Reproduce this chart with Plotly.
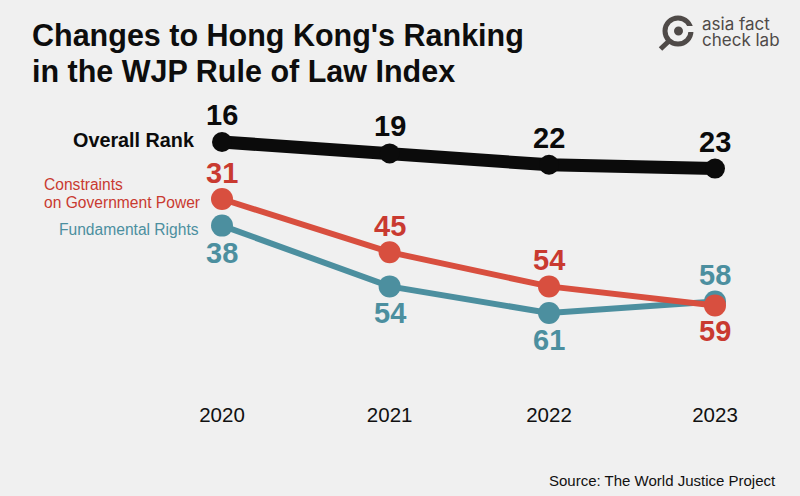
import plotly.graph_objects as go

years = [2020, 2021, 2022, 2023]
# horizontal placement of each year
x_pos = [2020, 2021.02, 2021.99, 2023]
overall = [16, 19, 22, 23]
constraints = [31, 45, 54, 59]
fundamental = [38, 54, 61, 58]

BG = "#f0f0f0"
BLACK = "#0b0b0b"
RED = "#d84f3f"
RED_TXT = "#c93a30"
TEAL = "#4c8f9f"
FONT = "Liberation Sans"
W, H, B = 800, 496, 96
PH = H - B

def px(v):
    return v / W

def py(v):
    return 1 - v / PH

fig = go.Figure()
for vals, col, lw, ms in [(overall, BLACK, 13, 20), (fundamental, TEAL, 6, 22), (constraints, RED, 6, 22)]:
    fig.add_trace(go.Scatter(x=x_pos, y=vals, mode="lines+markers",
                             line=dict(color=col, width=lw),
                             marker=dict(color=col, size=ms),
                             hoverinfo="skip", showlegend=False))

ann = []
def val_label(x, v, col, shift, size=29):
    ann.append(dict(x=x, y=v, xref="x", yref="y", text=f"<b>{v}</b>", showarrow=False,
                    yshift=shift, font=dict(family=FONT, size=size, color=col)))

for x, v in zip(x_pos, overall):
    val_label(x, v, BLACK, 27)
for x, v in zip(x_pos, constraints):
    val_label(x, v, RED_TXT, -26 if v == 59 else 26)
for x, v in zip(x_pos, fundamental):
    val_label(x, v, TEAL, 27 if v == 58 else -27)

def text(x, y, s, size, col, anchor="left", bold=False, family=FONT):
    ann.append(dict(x=px(x), y=py(y), xref="paper", yref="paper", text=f"<b>{s}</b>" if bold else s,
                    showarrow=False, xanchor=anchor, yanchor="middle", align=anchor,
                    font=dict(family=family, size=size, color=col)))

text(30, 35, "Changes to Hong Kong's Ranking", 30.5, "#0d0d0d", bold=True)
text(30, 71, "in the WJP Rule of Law Index", 30.5, "#0d0d0d", bold=True)
text(197, 140, "Overall Rank", 19.8, BLACK, anchor="right", bold=True)
text(42, 184, "Constraints", 15.6, RED_TXT)
text(42, 203, "on Government Power", 15.6, RED_TXT)
text(201, 230, "Fundamental Rights", 15.6, TEAL, anchor="right")
text(547, 480, "Source: The World Justice Project", 15, "#111111")
text(700, 24, "asia fact", 17, "#4f4a48", family="Inter")
text(700, 40, "check lab", 17, "#4f4a48", family="Inter")

# logo glyph: ring with a small gap on the right, centre dot and handle
LOGO = "#4f4a48"
shapes = [
    dict(type="circle", xref="paper", yref="paper",
         x0=px(665), x1=px(691), y0=py(18), y1=py(44), fillcolor="rgba(0,0,0,0)",
         line=dict(color=LOGO, width=5)),
    dict(type="rect", xref="paper", yref="paper",
         x0=px(682), x1=px(695), y0=py(26), y1=py(32), fillcolor=BG, line=dict(width=0)),
    dict(type="circle", xref="paper", yref="paper",
         x0=px(674), x1=px(683), y0=py(26.5), y1=py(35.5), fillcolor=LOGO, line=dict(width=0)),
    dict(type="line", xref="paper", yref="paper",
         x0=px(660.5), y0=py(49), x1=px(669), y1=py(41), line=dict(color=LOGO, width=5)),
]

fig.update_layout(
    width=W, height=H, paper_bgcolor=BG, plot_bgcolor=BG,
    margin=dict(l=0, r=0, t=0, b=B),
    annotations=ann, shapes=shapes,
    font=dict(family=FONT),
    xaxis=dict(range=[2020 - 222 / 164.33, 2023 + 85 / 164.33], tickvals=x_pos,
               ticktext=[str(y) for y in years], showgrid=False, zeroline=False,
               showline=False, ticks="", tickfont=dict(size=20.5, color="#111111")),
    yaxis=dict(range=[16 + 258 / 3.8, 16 - 142 / 3.8], visible=False),
)
fig.write_html("out.html", config=dict(displayModeBar=False),
               post_script="document.body.style.margin='0';document.body.style.background='#f0f0f0';")
